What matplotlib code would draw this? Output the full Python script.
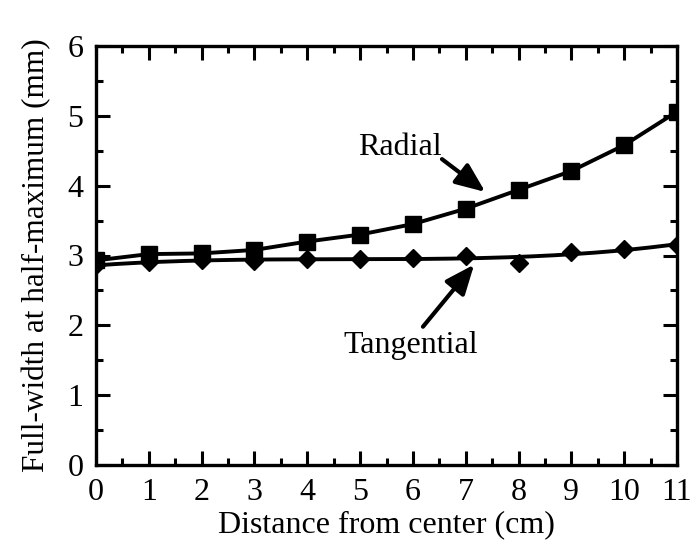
import numpy as np
import matplotlib
matplotlib.use("Agg")
import matplotlib.pyplot as plt
from matplotlib.ticker import MultipleLocator

distance = np.arange(0, 12)
radial = [2.93, 3.02, 3.03, 3.08, 3.20, 3.30, 3.45, 3.67, 3.94, 4.21, 4.58, 5.06]
tangential = [2.86, 2.90, 2.94, 2.92, 2.95, 2.95, 2.96, 3.00, 2.89, 3.05, 3.10, 3.15]

plt.rcParams['font.family'] = ['Liberation Serif', 'DejaVu Serif']

ARROW = dict(arrowstyle='-|>,head_length=0.6,head_width=0.25', lw=3, color='k',
	mutation_scale=30, shrinkA=0, shrinkB=0)


def main():
	fig = plt.figure(figsize=(6.91, 5.47), dpi=100)
	ax = fig.add_axes([96 / 691, 1 - 465 / 547, 581 / 691, 419 / 547])

	ax.plot(distance, radial, c='k', lw=2.8, marker='s', ms=11)
	# tangential curve is a smooth fit, markers sit off it a bit
	fit = np.polyfit(distance, tangential, 3)
	xs = np.linspace(0, 11, 200)
	ax.plot(xs, np.polyval(fit, xs), c='k', lw=2.8)
	ax.plot(distance, tangential, ls='none', c='k', marker='D', ms=9.5)

	ax.text(5.76, 4.44, "Radial", fontsize=23, ha='center', va='baseline')
	ax.annotate("", xy=(7.37, 3.91), xytext=(6.55, 4.38), arrowprops=ARROW)
	ax.text(5.95, 1.60, "Tangential", fontsize=23, ha='center', va='baseline')
	ax.annotate("", xy=(7.16, 2.87), xytext=(6.19, 1.98), arrowprops=ARROW)

	ax.set_xlim(0, 11)
	ax.set_ylim(0, 6)
	ax.xaxis.set_major_locator(MultipleLocator(1))
	ax.xaxis.set_minor_locator(MultipleLocator(0.5))
	ax.yaxis.set_major_locator(MultipleLocator(1))
	ax.yaxis.set_minor_locator(MultipleLocator(0.5))
	ax.tick_params(which='both', direction='in', top=True, right=True, labelsize=23, width=2.2, pad=9)
	ax.tick_params(which='major', length=10)
	ax.tick_params(which='minor', length=5)
	for s in ax.spines.values():
		s.set_linewidth(2.4)
	ax.set_xlabel("Distance from center (cm)", fontsize=23, labelpad=3)
	ax.set_ylabel("Full-width at half-maximum (mm)", fontsize=22.5, labelpad=12)

	fig.savefig("out.png", dpi=100)


if __name__ == "__main__":
	main()
